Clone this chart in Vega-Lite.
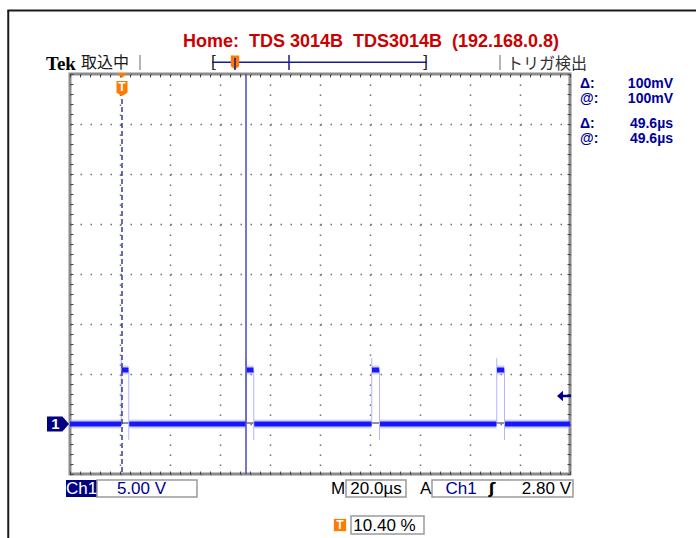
{
  "$schema": "https://vega.github.io/schema/vega-lite/v6.json",
  "width": 500,
  "height": 400,
  "autosize": {"type": "none"},
  "padding": {"left": 70, "top": 74, "right": 126, "bottom": 64},
  "background": "white",
  "config": {"view": {"stroke": "#8c8c8c", "strokeWidth": 3}, "text": {"font": "Liberation Sans"}},
  "datasets": {
    "trace": [
      {"t": -20.8, "v": 0, "seg": 0}, {"t": -0.4, "v": 0, "seg": 0},
      {"t": -0.2, "v": 5.4, "seg": 1}, {"t": 2.6, "v": 5.4, "seg": 1},
      {"t": 2.9, "v": 0, "seg": 2}, {"t": 49.5, "v": 0, "seg": 2},
      {"t": 49.8, "v": 5.4, "seg": 3}, {"t": 52.6, "v": 5.4, "seg": 3},
      {"t": 52.9, "v": 0, "seg": 4}, {"t": 99.8, "v": 0, "seg": 4},
      {"t": 100.0, "v": 5.4, "seg": 5}, {"t": 102.9, "v": 5.4, "seg": 5},
      {"t": 103.2, "v": 0, "seg": 6}, {"t": 149.8, "v": 0, "seg": 6},
      {"t": 150.0, "v": 5.4, "seg": 7}, {"t": 152.9, "v": 5.4, "seg": 7},
      {"t": 153.2, "v": 0, "seg": 8}, {"t": 179.2, "v": 0, "seg": 8}
    ],
    "edges": [
      {"t": -0.3, "lo": 0, "hi": 6.6}, {"t": 2.7, "lo": -1.6, "hi": 5.4},
      {"t": 49.7, "lo": 0, "hi": 6.6}, {"t": 52.7, "lo": -1.6, "hi": 5.4},
      {"t": 99.9, "lo": 0, "hi": 6.6}, {"t": 103.0, "lo": -1.6, "hi": 5.4},
      {"t": 149.9, "lo": 0, "hi": 6.6}, {"t": 153.0, "lo": -1.6, "hi": 5.4}
    ]
  },
  "data": {"values": [{}]},
  "resolve": {"axis": {"x": "independent", "y": "independent"}},
  "layer": [
    {"mark": {"type": "rule", "color": "#1a1a1a", "strokeWidth": 2},
     "encoding": {"x": {"datum": -45.8, "type": "quantitative", "axis": null}, "x2": {"datum": 229.6}, "y": {"datum": 41.35, "type": "quantitative", "axis": null}}},
    {"mark": {"type": "rule", "color": "#1a1a1a", "strokeWidth": 2},
     "encoding": {"x": {"datum": -45.5, "type": "quantitative", "axis": null}, "y": {"datum": 41.4, "type": "quantitative", "axis": null}, "y2": {"datum": -11.4}}},
    {"mark": {"type": "rule", "color": "#202050", "strokeWidth": 1},
     "encoding": {"x": {"datum": -20.8, "type": "quantitative", "axis": null}, "x2": {"datum": 179.2}, "y": {"datum": 0.1, "type": "quantitative", "axis": null}}},
    {"data": {"name": "trace"},
     "mark": {"type": "line", "color": "#9c9cff", "strokeWidth": 9, "opacity": 0.45, "strokeCap": "butt"},
     "encoding": {
       "x": {"field": "t", "type": "quantitative", "scale": {"domain": [-20.8, 179.2], "nice": false, "zero": false},
             "axis": {"orient": "bottom", "title": null, "labels": false, "domain": false,
                      "values": [-20.8,-16.8,-12.8,-8.8,-4.8,-0.8,3.2,7.2,11.2,15.2,19.2,23.2,27.2,31.2,35.2,39.2,43.2,47.2,51.2,55.2,59.2,63.2,67.2,71.2,75.2,79.2,83.2,87.2,91.2,95.2,99.2,103.2,107.2,111.2,115.2,119.2,123.2,127.2,131.2,135.2,139.2,143.2,147.2,151.2,155.2,159.2,163.2,167.2,171.2,175.2,179.2],
                      "ticks": true, "tickSize": -3, "tickColor": "#444444", "tickWidth": 1,
                      "grid": true, "gridColor": "#707070", "gridWidth": 1.5, "gridDash": [1.5, 8.5],
                      "gridOpacity": {"condition": {"test": "abs((datum.value+20.8)/20 - round((datum.value+20.8)/20)) < 0.01", "value": 1}, "value": 0}}},
       "y": {"field": "v", "type": "quantitative", "scale": {"domain": [-5, 35], "nice": false, "zero": false},
             "axis": {"orient": "left", "title": null, "labels": false, "domain": false,
                      "values": [-5,-4,-3,-2,-1,0,1,2,3,4,5,6,7,8,9,10,11,12,13,14,15,16,17,18,19,20,21,22,23,24,25,26,27,28,29,30,31,32,33,34,35],
                      "ticks": true, "tickSize": -3, "tickColor": "#444444", "tickWidth": 1,
                      "grid": true, "gridColor": "#707070", "gridWidth": 1.5, "gridDash": [1.5, 8.5],
                      "gridOpacity": {"condition": {"test": "abs(datum.value/5 - round(datum.value/5)) < 0.01", "value": 1}, "value": 0}}},
       "detail": {"field": "seg"}
     }},
    {"data": {"name": "edges"},
     "mark": {"type": "rule", "color": "#b4b4ff", "strokeWidth": 1},
     "encoding": {"x": {"field": "t", "type": "quantitative", "axis": null}, "y": {"field": "lo", "type": "quantitative", "axis": null}, "y2": {"field": "hi"}}},
    {"data": {"name": "trace"},
     "mark": {"type": "line", "color": "#1818ff", "strokeWidth": 5, "strokeCap": "butt"},
     "encoding": {"x": {"field": "t", "type": "quantitative", "axis": null}, "y": {"field": "v", "type": "quantitative", "axis": null}, "detail": {"field": "seg"}}},
    {"mark": {"type": "rule", "color": "#3a3aa8", "strokeWidth": 1.5, "strokeDash": [5, 3]},
     "encoding": {"x": {"datum": 0, "type": "quantitative", "axis": null}, "y": {"datum": 32.5, "type": "quantitative", "axis": null}, "y2": {"datum": -5}}},
    {"mark": {"type": "rule", "color": "#4848c0", "strokeWidth": 1.5},
     "encoding": {
       "x": {"datum": 49.6, "type": "quantitative",
             "axis": {"orient": "top", "title": null, "labels": false, "domain": false, "grid": false,
                      "values": [-20.8,-16.8,-12.8,-8.8,-4.8,-0.8,3.2,7.2,11.2,15.2,19.2,23.2,27.2,31.2,35.2,39.2,43.2,47.2,51.2,55.2,59.2,63.2,67.2,71.2,75.2,79.2,83.2,87.2,91.2,95.2,99.2,103.2,107.2,111.2,115.2,119.2,123.2,127.2,131.2,135.2,139.2,143.2,147.2,151.2,155.2,159.2,163.2,167.2,171.2,175.2,179.2],
                      "ticks": true, "tickSize": -3, "tickColor": "#444444", "tickWidth": 1}},
       "y": {"datum": 35, "type": "quantitative",
             "axis": {"orient": "right", "title": null, "labels": false, "domain": false, "grid": false,
                      "values": [-5,-4,-3,-2,-1,0,1,2,3,4,5,6,7,8,9,10,11,12,13,14,15,16,17,18,19,20,21,22,23,24,25,26,27,28,29,30,31,32,33,34,35],
                      "ticks": true, "tickSize": -3, "tickColor": "#444444", "tickWidth": 1}},
       "y2": {"datum": -5}
     }},
    {"mark": {"type": "point", "shape": "M-1,-0.5L1,-0.5L0,0.5Z", "size": 100, "filled": true, "color": "#ff7a00", "opacity": 1},
     "encoding": {"x": {"datum": 0, "type": "quantitative", "axis": null}, "y": {"datum": 34.85, "type": "quantitative", "axis": null}}},
    {"mark": {"type": "point", "shape": "M-0.73,-1L0.73,-1L0.73,0.55L0,1L-0.73,0.55Z", "size": 225, "filled": true, "color": "#ff7a00", "opacity": 1},
     "encoding": {"x": {"datum": 0, "type": "quantitative", "axis": null}, "y": {"datum": 33.55, "type": "quantitative", "axis": null}}},
    {"mark": {"type": "text", "text": "T", "fontWeight": "bold", "fontSize": 12, "fill": "white", "align": "center", "baseline": "middle"},
     "encoding": {"x": {"datum": 0, "type": "quantitative", "axis": null}, "y": {"datum": 33.7, "type": "quantitative", "axis": null}}},
    {"mark": {"type": "point", "shape": "M-1,-0.68L0.4,-0.68L1,0L0.4,0.68L-1,0.68Z", "size": 484, "filled": true, "color": "#000080", "opacity": 1},
     "encoding": {"x": {"datum": -25.6, "type": "quantitative", "axis": null}, "y": {"datum": 0, "type": "quantitative", "axis": null}}},
    {"mark": {"type": "text", "text": "1", "fontWeight": "bold", "fontSize": 15, "fill": "white", "align": "center", "baseline": "middle"},
     "encoding": {"x": {"datum": -26.6, "type": "quantitative", "axis": null}, "y": {"datum": 0, "type": "quantitative", "axis": null}}},
    {"mark": {"type": "point", "shape": "M-1,0L-0.15,-0.75L-0.15,-0.18L1,-0.18L1,0.18L-0.15,0.18L-0.15,0.75Z", "size": 196, "filled": true, "color": "#000090", "opacity": 1},
     "encoding": {"x": {"datum": 176.8, "type": "quantitative", "axis": null}, "y": {"datum": 2.8, "type": "quantitative", "axis": null}}},
    {"mark": {"type": "text", "text": "Home:\u00a0 TDS 3014B\u00a0 TDS3014B\u00a0 (192.168.0.8)", "fontWeight": "bold", "fontSize": 18, "fill": "#cc0000", "align": "center", "baseline": "alphabetic"},
     "encoding": {"x": {"datum": 99.6, "type": "quantitative", "axis": null}, "y": {"datum": 37.7, "type": "quantitative", "axis": null}}},
    {"mark": {"type": "text", "text": "Tek", "font": "Liberation Serif", "fontWeight": "bold", "fontSize": 19, "fill": "#000000", "align": "left", "baseline": "alphabetic"},
     "encoding": {"x": {"datum": -30.4, "type": "quantitative", "axis": null}, "y": {"datum": 35.45, "type": "quantitative", "axis": null}}},
    {"mark": {"type": "text", "text": "取込中", "font": "Noto Sans CJK JP", "fontWeight": "normal", "fontSize": 16, "fill": "#1a1a1a", "align": "left", "baseline": "alphabetic"},
     "encoding": {"x": {"datum": -16.4, "type": "quantitative", "axis": null}, "y": {"datum": 35.6, "type": "quantitative", "axis": null}}},
    {"mark": {"type": "rule", "color": "#b4b4b4", "strokeWidth": 2},
     "encoding": {"x": {"datum": 7.2, "type": "quantitative", "axis": null}, "y": {"datum": 36.9, "type": "quantitative", "axis": null}, "y2": {"datum": 35.4}}},
    {"mark": {"type": "rule", "color": "#b4b4b4", "strokeWidth": 2},
     "encoding": {"x": {"datum": 151.2, "type": "quantitative", "axis": null}, "y": {"datum": 36.9, "type": "quantitative", "axis": null}, "y2": {"datum": 35.4}}},
    {"mark": {"type": "rule", "color": "#1818a0", "strokeWidth": 1.5},
     "encoding": {"x": {"datum": 36.0, "type": "quantitative", "axis": null}, "x2": {"datum": 122.0}, "y": {"datum": 36.17, "type": "quantitative", "axis": null}}},
    {"mark": {"type": "rule", "color": "#1818a0", "strokeWidth": 1.5},
     "encoding": {"x": {"datum": 66.8, "type": "quantitative", "axis": null}, "y": {"datum": 36.9, "type": "quantitative", "axis": null}, "y2": {"datum": 35.4}}},
    {"mark": {"type": "text", "text": "[", "fontSize": 17, "fill": "#222222", "align": "left", "baseline": "alphabetic"},
     "encoding": {"x": {"datum": 35.6, "type": "quantitative", "axis": null}, "y": {"datum": 35.7, "type": "quantitative", "axis": null}}},
    {"mark": {"type": "text", "text": "]", "fontSize": 17, "fill": "#222222", "align": "right", "baseline": "alphabetic"},
     "encoding": {"x": {"datum": 122.4, "type": "quantitative", "axis": null}, "y": {"datum": 35.7, "type": "quantitative", "axis": null}}},
    {"mark": {"type": "point", "shape": "M-0.6,-1L0.6,-1L0.6,0.55L0,1L-0.6,0.55Z", "size": 196, "filled": true, "color": "#ff7a00", "opacity": 1},
     "encoding": {"x": {"datum": 45.2, "type": "quantitative", "axis": null}, "y": {"datum": 36.15, "type": "quantitative", "axis": null}}},
    {"mark": {"type": "rule", "color": "#1818a0", "strokeWidth": 1.5},
     "encoding": {"x": {"datum": 45.2, "type": "quantitative", "axis": null}, "y": {"datum": 36.6, "type": "quantitative", "axis": null}, "y2": {"datum": 35.4}}},
    {"mark": {"type": "text", "text": "トリガ検出", "font": "Noto Sans CJK JP", "fontSize": 16, "fill": "#333333", "align": "left", "baseline": "alphabetic"},
     "encoding": {"x": {"datum": 154.0, "type": "quantitative", "axis": null}, "y": {"datum": 35.5, "type": "quantitative", "axis": null}}},
    {"mark": {"type": "text", "text": "Δ:", "fontWeight": "bold", "fontSize": 14, "fill": "#000099", "align": "left", "baseline": "alphabetic"},
     "encoding": {"x": {"datum": 183.2, "type": "quantitative", "axis": null}, "y": {"datum": 33.6, "type": "quantitative", "axis": null}}},
    {"mark": {"type": "text", "text": "@:", "fontWeight": "bold", "fontSize": 14, "fill": "#000099", "align": "left", "baseline": "alphabetic"},
     "encoding": {"x": {"datum": 183.2, "type": "quantitative", "axis": null}, "y": {"datum": 32.15, "type": "quantitative", "axis": null}}},
    {"mark": {"type": "text", "text": "Δ:", "fontWeight": "bold", "fontSize": 14, "fill": "#000099", "align": "left", "baseline": "alphabetic"},
     "encoding": {"x": {"datum": 183.2, "type": "quantitative", "axis": null}, "y": {"datum": 29.6, "type": "quantitative", "axis": null}}},
    {"mark": {"type": "text", "text": "@:", "fontWeight": "bold", "fontSize": 14, "fill": "#000099", "align": "left", "baseline": "alphabetic"},
     "encoding": {"x": {"datum": 183.2, "type": "quantitative", "axis": null}, "y": {"datum": 28.1, "type": "quantitative", "axis": null}}},
    {"mark": {"type": "text", "text": "100mV", "fontWeight": "bold", "fontSize": 14, "fill": "#000099", "align": "right", "baseline": "alphabetic"},
     "encoding": {"x": {"datum": 220.4, "type": "quantitative", "axis": null}, "y": {"datum": 33.6, "type": "quantitative", "axis": null}}},
    {"mark": {"type": "text", "text": "100mV", "fontWeight": "bold", "fontSize": 14, "fill": "#000099", "align": "right", "baseline": "alphabetic"},
     "encoding": {"x": {"datum": 220.4, "type": "quantitative", "axis": null}, "y": {"datum": 32.15, "type": "quantitative", "axis": null}}},
    {"mark": {"type": "text", "text": "49.6µs", "fontWeight": "bold", "fontSize": 14, "fill": "#000099", "align": "right", "baseline": "alphabetic"},
     "encoding": {"x": {"datum": 220.4, "type": "quantitative", "axis": null}, "y": {"datum": 29.6, "type": "quantitative", "axis": null}}},
    {"mark": {"type": "text", "text": "49.6µs", "fontWeight": "bold", "fontSize": 14, "fill": "#000099", "align": "right", "baseline": "alphabetic"},
     "encoding": {"x": {"datum": 220.4, "type": "quantitative", "axis": null}, "y": {"datum": 28.1, "type": "quantitative", "axis": null}}},
    {"mark": {"type": "rect", "fill": "#000080"},
     "encoding": {"x": {"datum": -22.4, "type": "quantitative", "axis": null}, "x2": {"datum": -10.0}, "y": {"datum": -5.6, "type": "quantitative", "axis": null}, "y2": {"datum": -7.3}}},
    {"mark": {"type": "rect", "fill": "white", "stroke": "#9a9a9a", "strokeWidth": 1.5},
     "encoding": {"x": {"datum": -10.0, "type": "quantitative", "axis": null}, "x2": {"datum": 30.0}, "y": {"datum": -5.6, "type": "quantitative", "axis": null}, "y2": {"datum": -7.3}}},
    {"mark": {"type": "rect", "fill": "white", "stroke": "#9a9a9a", "strokeWidth": 1.5},
     "encoding": {"x": {"datum": 89.6, "type": "quantitative", "axis": null}, "x2": {"datum": 113.6}, "y": {"datum": -5.6, "type": "quantitative", "axis": null}, "y2": {"datum": -7.3}}},
    {"mark": {"type": "rect", "fill": "white", "stroke": "#9a9a9a", "strokeWidth": 1.5},
     "encoding": {"x": {"datum": 124.0, "type": "quantitative", "axis": null}, "x2": {"datum": 180.4}, "y": {"datum": -5.6, "type": "quantitative", "axis": null}, "y2": {"datum": -7.3}}},
    {"mark": {"type": "rect", "fill": "white", "stroke": "#9a9a9a", "strokeWidth": 1.5},
     "encoding": {"x": {"datum": 91.6, "type": "quantitative", "axis": null}, "x2": {"datum": 120.8}, "y": {"datum": -9.2, "type": "quantitative", "axis": null}, "y2": {"datum": -11.0}}},
    {"mark": {"type": "text", "text": "Ch1", "fontSize": 17, "fill": "white", "align": "center", "baseline": "alphabetic"},
     "encoding": {"x": {"datum": -16.2, "type": "quantitative", "axis": null}, "y": {"datum": -7.0, "type": "quantitative", "axis": null}}},
    {"mark": {"type": "text", "text": "5.00 V", "fontSize": 17, "fill": "#000090", "align": "center", "baseline": "alphabetic"},
     "encoding": {"x": {"datum": 7.8, "type": "quantitative", "axis": null}, "y": {"datum": -7.0, "type": "quantitative", "axis": null}}},
    {"mark": {"type": "text", "text": "M", "fontSize": 17, "fill": "#000000", "align": "left", "baseline": "alphabetic"},
     "encoding": {"x": {"datum": 83.6, "type": "quantitative", "axis": null}, "y": {"datum": -7.0, "type": "quantitative", "axis": null}}},
    {"mark": {"type": "text", "text": "20.0µs", "fontSize": 17, "fill": "#000000", "align": "center", "baseline": "alphabetic"},
     "encoding": {"x": {"datum": 101.6, "type": "quantitative", "axis": null}, "y": {"datum": -7.0, "type": "quantitative", "axis": null}}},
    {"mark": {"type": "text", "text": "A", "fontSize": 17, "fill": "#000000", "align": "left", "baseline": "alphabetic"},
     "encoding": {"x": {"datum": 119.2, "type": "quantitative", "axis": null}, "y": {"datum": -7.0, "type": "quantitative", "axis": null}}},
    {"mark": {"type": "text", "text": "Ch1", "fontSize": 17, "fill": "#000090", "align": "center", "baseline": "alphabetic"},
     "encoding": {"x": {"datum": 135.6, "type": "quantitative", "axis": null}, "y": {"datum": -7.0, "type": "quantitative", "axis": null}}},
    {"mark": {"type": "text", "text": "ʃ", "font": "DejaVu Sans", "fontWeight": "bold", "fontSize": 16, "fill": "#000000", "align": "center", "baseline": "alphabetic"},
     "encoding": {"x": {"datum": 148.0, "type": "quantitative", "axis": null}, "y": {"datum": -7.0, "type": "quantitative", "axis": null}}},
    {"mark": {"type": "text", "text": "2.80 V", "fontSize": 17, "fill": "#000000", "align": "right", "baseline": "alphabetic"},
     "encoding": {"x": {"datum": 179.6, "type": "quantitative", "axis": null}, "y": {"datum": -7.0, "type": "quantitative", "axis": null}}},
    {"mark": {"type": "point", "shape": "square", "size": 150, "filled": true, "color": "#ff7a00", "opacity": 1},
     "encoding": {"x": {"datum": 87.2, "type": "quantitative", "axis": null}, "y": {"datum": -10.1, "type": "quantitative", "axis": null}}},
    {"mark": {"type": "text", "text": "T", "fontWeight": "bold", "fontSize": 12, "fill": "white", "align": "center", "baseline": "middle"},
     "encoding": {"x": {"datum": 87.2, "type": "quantitative", "axis": null}, "y": {"datum": -10.1, "type": "quantitative", "axis": null}}},
    {"mark": {"type": "text", "text": "10.40 %", "fontSize": 17, "fill": "#000000", "align": "center", "baseline": "alphabetic"},
     "encoding": {"x": {"datum": 105.0, "type": "quantitative", "axis": null}, "y": {"datum": -10.7, "type": "quantitative", "axis": null}}}
  ]
}
